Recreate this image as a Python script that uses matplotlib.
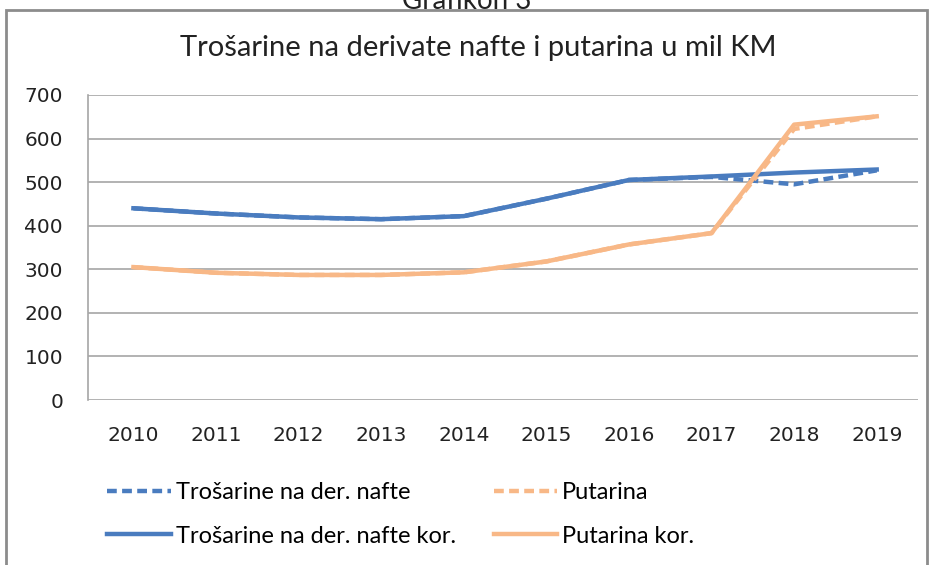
import matplotlib.pyplot as plt
from matplotlib.patches import Rectangle

years = [2010, 2011, 2012, 2013, 2014, 2015, 2016, 2017, 2018, 2019]
trosarine = [440, 428, 419, 415, 422, 462, 505, 512, 495, 527]
trosarine_kor = [440, 428, 419, 415, 422, 462, 505, 513, 522, 529]
putarina = [305, 292, 287, 287, 293, 318, 357, 383, 622, 651]
putarina_kor = [305, 292, 287, 287, 293, 318, 357, 383, 632, 651]

BLUE = '#4a7cbf'
ORANGE = '#f8b887'
NARROW = ['Lato', 'DejaVu Sans']

fig = plt.figure(figsize=(9.33, 5.65), dpi=100)
ax = fig.add_axes([88 / 933, 1 - 400 / 565, 830 / 933, 305 / 565])

x = list(range(len(years)))
l1, = ax.plot(x, trosarine, color=BLUE, lw=3.2, ls=(0, (2.2, 1.2)))
l2, = ax.plot(x, putarina, color=ORANGE, lw=3.2, ls=(0, (2.2, 1.2)))
l3, = ax.plot(x, trosarine_kor, color=BLUE, lw=3.2)
l4, = ax.plot(x, putarina_kor, color=ORANGE, lw=3.2)

ax.set_xlim(-0.55, 9.5)
ax.set_ylim(0, 700)
ax.set_yticks(range(0, 701, 100))
ax.set_xticks(x)
ax.set_xticklabels([str(y) for y in years])
ax.tick_params(length=0, labelsize=14.5, colors='#222222')
ax.tick_params(axis='x', pad=19)
ax.tick_params(axis='y', pad=18)
ax.grid(axis='y', color='#a6a6a6', lw=1.2)
ax.set_axisbelow(True)
for side in ['top', 'right', 'bottom']:
    ax.spines[side].set_visible(False)
ax.spines['left'].set_color('#a6a6a6')
ax.spines['left'].set_linewidth(1.2)

fig.text(478 / 933, 1 - 48 / 565, 'Trošarine na derivate nafte i putarina u mil KM',
         ha='center', va='center', fontsize=21, family=NARROW, color='#222222')
fig.text(0.5, 1 - 9 / 565, 'Grafikon 3', ha='center', va='baseline',
         fontsize=20, family=NARROW, color='#222222')

fig.legend([l1, l3, l2, l4],
           ['Trošarine na der. nafte', 'Trošarine na der. nafte kor.',
            'Putarina', 'Putarina kor.'],
           ncol=2, loc='upper left', bbox_to_anchor=(86 / 933, 1 - 461 / 565),
           frameon=False, prop={'family': NARROW, 'size': 17},
           handlelength=2.7, handletextpad=0.2, columnspacing=1.6,
           labelspacing=0.95)

fig.patches.append(Rectangle((6 / 933, -0.1), 921 / 933, 1.1 - 10 / 565,
                             transform=fig.transFigure, fill=False,
                             edgecolor='#8c8c8c', lw=2))

fig.savefig('out.png')
